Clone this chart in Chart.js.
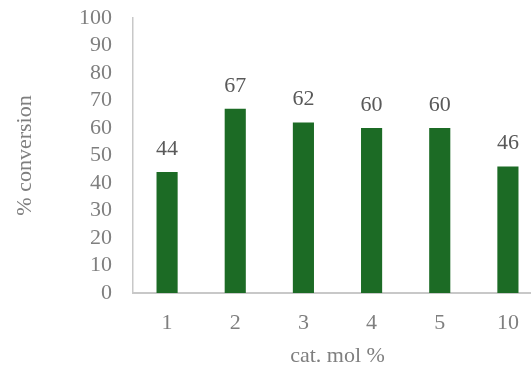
<!DOCTYPE html>
<html>
<head>
<meta charset="utf-8">
<script src="https://cdn.jsdelivr.net/npm/chart.js@4/dist/chart.umd.min.js"></script>
<style>
  html, body { margin: 0; padding: 0; background: #ffffff; overflow: hidden; }
  #wrap { width: 545px; height: 371px; }
</style>
</head>
<body>
<div id="wrap"><canvas id="c" width="545" height="371"></canvas></div>
<script>
// Catalyst loading (mol %) and the resulting conversion (%)
const categories = ['1', '2', '3', '4', '5', '10'];
const conversion = [44, 67, 62, 60, 60, 46];
const yTicks = [0, 10, 20, 30, 40, 50, 60, 70, 80, 90, 100];

const FONT = "'Liberation Serif', 'Times New Roman', serif";

// Writes each bar's value above it
const valueLabels = {
  id: 'valueLabels',
  afterDatasetsDraw(chart) {
    const ctx = chart.ctx;
    const meta = chart.getDatasetMeta(0);
    ctx.save();
    ctx.font = '22px ' + FONT;
    ctx.fillStyle = '#595959';
    ctx.textAlign = 'center';
    ctx.textBaseline = 'middle';
    meta.data.forEach((bar, i) => {
      ctx.fillText(String(conversion[i]), bar.x, bar.y - 23);
    });
    ctx.restore();
  }
};

new Chart(document.getElementById('c'), {
  type: 'bar',
  data: {
    labels: categories,
    datasets: [{
      data: conversion,
      backgroundColor: '#1c6b25',
      borderWidth: 0,
      barPercentage: 0.31,
      categoryPercentage: 1.0
    }]
  },
  options: {
    responsive: false,
    animation: false,
    devicePixelRatio: 1,
    layout: { padding: { top: 18, right: 3, bottom: 0, left: 0 } },
    plugins: { legend: { display: false }, tooltip: { enabled: false } },
    scales: {
      x: {
        grid: { display: false, drawTicks: false },
        border: { display: true, color: '#c8c8c8', width: 2 },
        ticks: { color: '#7f7f7f', font: { family: FONT, size: 22 }, padding: 17, autoSkip: false, maxRotation: 0 },
        title: {
          display: true, text: 'cat. mol %', color: '#7f7f7f',
          font: { family: FONT, size: 22 }, padding: { top: 0, bottom: 2 }
        },
        afterFit(scale) { scale.height = 78; scale.paddingLeft = 0; scale.paddingRight = 0; }
      },
      y: {
        min: 0, max: 100,
        afterBuildTicks(scale) { scale.ticks = yTicks.map(v => ({ value: v })); },
        grid: { display: false, drawTicks: false },
        border: { display: true, color: '#c8c8c8', width: 1.5 },
        ticks: { color: '#7f7f7f', font: { family: FONT, size: 22 }, padding: 21, autoSkip: false },
        title: {
          display: true, text: '% conversion', color: '#7f7f7f',
          font: { family: FONT, size: 22 }, padding: { top: 12, bottom: 0 }
        },
        afterFit(scale) { scale.width = 133; scale.paddingTop = 0; scale.paddingBottom = 0; }
      }
    }
  },
  plugins: [valueLabels]
});
</script>
</body>
</html>
